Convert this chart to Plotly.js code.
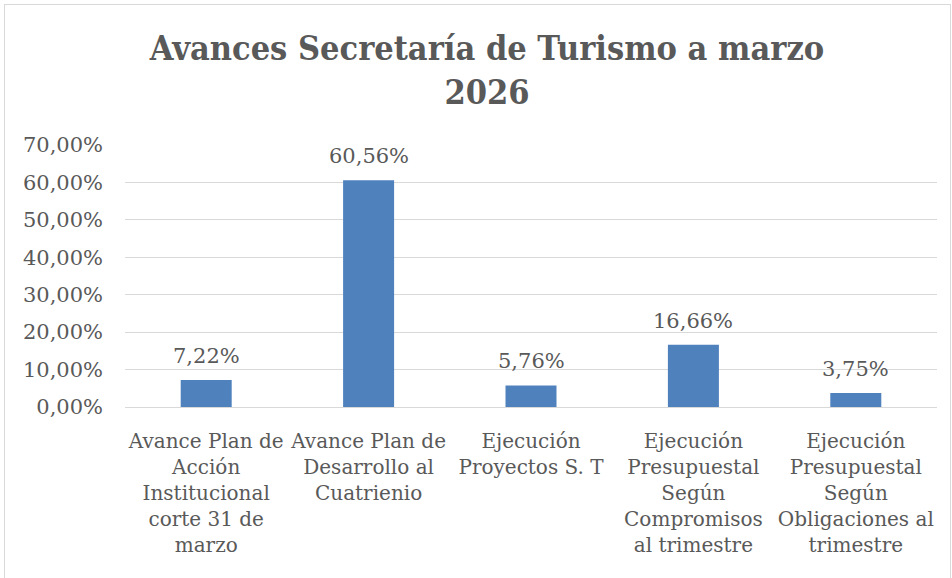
<!DOCTYPE html>
<html><head><meta charset="utf-8">
<script src="https://cdn.plot.ly/plotly-3.0.1.min.js"></script>
<style>
html,body{margin:0;padding:0;background:#fff;overflow:hidden;}
#chart{position:absolute;left:0;top:0;width:952px;height:578px;}
#frame{position:absolute;left:4px;top:4px;width:945px;height:580px;border:1px solid #d9d9d9;pointer-events:none;}
</style></head>
<body>
<div id="chart"></div>
<div id="frame"></div>
<script>
const categories = [
  "Avance Plan de<br>Acción<br>Institucional<br>corte 31 de<br>marzo",
  "Avance Plan de<br>Desarrollo al<br>Cuatrienio",
  "Ejecución<br>Proyectos S. T",
  "Ejecución<br>Presupuestal<br>Según<br>Compromisos<br>al trimestre",
  "Ejecución<br>Presupuestal<br>Según<br>Obligaciones al<br>trimestre"
];
const values = [0.0722, 0.6056, 0.0576, 0.1666, 0.0375];
const tickValues = [0, 0.1, 0.2, 0.3, 0.4, 0.5, 0.6, 0.7];

const FONT = "'DejaVu Serif', serif";
const TITLE_FONT = "'DejaVu Serif Condensed', 'DejaVu Serif', serif";
const TXT = "#595959";
const fmt = v => (v * 100).toFixed(2).replace('.', ',') + '%';

Plotly.newPlot('chart', [{
  type: 'bar',
  x: categories,
  y: values,
  marker: {color: '#4f81bd'},
  hoverinfo: 'none'
}], {
  width: 952, height: 578,
  separators: ',.',
  margin: {l: 125, r: 15, t: 145, b: 171},
  paper_bgcolor: '#fff', plot_bgcolor: '#fff',
  bargap: 0.686,
  showlegend: false,
  font: {family: FONT, color: TXT, size: 21},
  title: {
    text: '<b>Avances Secretaría de Turismo a marzo<br>2026</b>',
    font: {family: TITLE_FONT, size: 34, color: TXT},
    xref: 'container', x: 487/952, xanchor: 'center',
    yref: 'container', y: 1 - 60/578, yanchor: 'top'
  },
  annotations: values.map((v, i) => ({
    x: categories[i], y: v, xref: 'x', yref: 'y',
    text: fmt(v), showarrow: false,
    yanchor: 'bottom', yshift: 10,
    font: {family: FONT, size: 21, color: TXT}
  })),
  xaxis: {
    type: 'category',
    showgrid: false,
    showline: true, linecolor: '#d9d9d9', linewidth: 1,
    ticks: '', ticklabelstandoff: 16,
    tickfont: {family: FONT, size: 20, color: TXT},
    tickangle: 0, automargin: false
  },
  yaxis: {
    range: [0, 0.7],
    tickvals: tickValues,
    tickformat: '.2%',
    showgrid: true, gridcolor: '#d9d9d9', gridwidth: 1,
    zeroline: false, showline: false,
    ticks: '', ticklabelstandoff: 21,
    tickfont: {family: FONT, size: 21, color: TXT},
    automargin: false
  }
}, {staticPlot: true});
</script>
</body></html>
